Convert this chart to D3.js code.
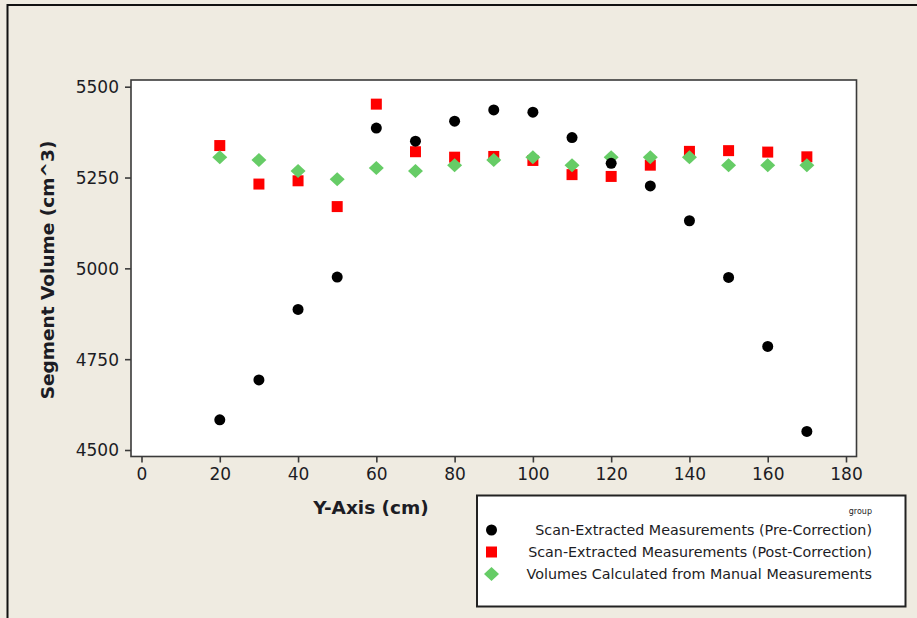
<!DOCTYPE html>
<html>
<head>
<meta charset="utf-8">
<script src="https://cdn.jsdelivr.net/npm/d3@7"></script>
<style>
  html, body { margin: 0; padding: 0; background: #efebe1; }
  svg { display: block; }
</style>
</head>
<body>
<svg id="chart" width="917" height="618"></svg>
<script>
// ---- Data ----
const positions = [20, 30, 40, 50, 60, 70, 80, 90, 100, 110, 120, 130, 140, 150, 160, 170];
const preCorrection  = [4583, 4693, 4887, 4976, 5386, 5350, 5405, 5436, 5430, 5360, 5289, 5227, 5131, 4975, 4785, 4551];
const postCorrection = [5338, 5232, 5241, 5170, 5452, 5321, 5306, 5308, 5297, 5258, 5253, 5284, 5322, 5324, 5320, 5307];
const manualVolumes  = [5306, 5298, 5268, 5245, 5276, 5268, 5284, 5298, 5306, 5284, 5306, 5306, 5306, 5284, 5284, 5284];
const xTicks = [0, 20, 40, 60, 80, 100, 120, 140, 160, 180];
const yTicks = [4500, 4750, 5000, 5250, 5500];
const seriesNames = [
  "Scan-Extracted Measurements (Pre-Correction)",
  "Scan-Extracted Measurements (Post-Correction)",
  "Volumes Calculated from Manual Measurements"
];
const legendTitle = "group";
const xTitle = "Y-Axis (cm)";
const yTitle = "Segment Volume (cm^3)";

// ---- Layout ----
const svg = d3.select("#chart");
const frame = { left: 131, top: 80, right: 856.5, bottom: 456.5 };
const x = d3.scaleLinear().domain([0, 180]).range([141.5, 846]);
const y = d3.scaleLinear().domain([4500, 5500]).range([450, 86.7]);

const textColor = "#1c1c24";
const fontFam = "'DejaVu Sans', Verdana, sans-serif";

// outer border (top/left only visible)
svg.append("line").attr("x1", 7.5).attr("x2", 917).attr("y1", 5).attr("y2", 5)
  .attr("stroke", "#111").attr("stroke-width", 2);
svg.append("line").attr("x1", 7.5).attr("x2", 7.5).attr("y1", 4).attr("y2", 618)
  .attr("stroke", "#111").attr("stroke-width", 2);

// plot area
svg.append("rect")
  .attr("x", frame.left).attr("y", frame.top)
  .attr("width", frame.right - frame.left).attr("height", frame.bottom - frame.top)
  .attr("fill", "#ffffff").attr("stroke", "#3a3a3a").attr("stroke-width", 1.6);

// axes
const yAxis = d3.axisLeft(y).tickValues(yTicks).tickSize(6).tickPadding(6).tickFormat(d3.format("d"));
const yG = svg.append("g").attr("transform", `translate(${frame.left},0)`).call(yAxis);
const xAxis = d3.axisBottom(x).tickValues(xTicks).tickSize(6).tickPadding(5).tickFormat(d3.format("d"));
const xG = svg.append("g").attr("transform", `translate(0,${frame.bottom})`).call(xAxis);
[yG, xG].forEach(g => {
  g.select(".domain").remove();
  g.selectAll(".tick line").attr("stroke", "#3a3a3a").attr("stroke-width", 1.6);
  g.selectAll(".tick text").attr("fill", textColor)
    .style("font-family", fontFam).style("font-size", "17px");
});
yG.selectAll(".tick text").attr("dy", "0.35em");

// axis titles
svg.append("text")
  .attr("transform", `translate(54,270) rotate(-90)`)
  .attr("text-anchor", "middle")
  .attr("fill", textColor)
  .style("font-family", fontFam).style("font-size", "18.5px").style("font-weight", "bold")
  .text(yTitle);
svg.append("text")
  .attr("x", 371).attr("y", 514)
  .attr("text-anchor", "middle")
  .attr("fill", textColor)
  .style("font-family", fontFam).style("font-size", "18.5px").style("font-weight", "bold")
  .text(xTitle);

// symbols
const circleSym = d3.symbol().type(d3.symbolCircle).size(Math.PI * 5.5 * 5.5);
const squareSym = d3.symbol().type(d3.symbolSquare).size(11 * 11);
const diamondPath = (w, h) => `M0,${-h / 2}L${w / 2},0L0,${h / 2}L${-w / 2},0Z`;

const plot = svg.append("g");
// red squares
plot.selectAll(".r").data(positions).join("path")
  .attr("transform", (d, i) => `translate(${x(d)},${y(postCorrection[i])})`)
  .attr("d", squareSym()).attr("fill", "#ff0000");
// green diamonds
plot.selectAll(".g").data(positions).join("path")
  .attr("transform", (d, i) => `translate(${x(d)},${y(manualVolumes[i])})`)
  .attr("d", diamondPath(15, 14)).attr("fill", "#66cc66");
// black circles
plot.selectAll(".b").data(positions).join("path")
  .attr("transform", (d, i) => `translate(${x(d)},${y(preCorrection[i])})`)
  .attr("d", circleSym()).attr("fill", "#000000");

// legend
const lg = svg.append("g");
lg.append("rect").attr("x", 477).attr("y", 495.5).attr("width", 428.5).attr("height", 111)
  .attr("fill", "#ffffff").attr("stroke", "#222").attr("stroke-width", 2);
lg.append("text").attr("x", 872).attr("y", 514).attr("text-anchor", "end")
  .attr("fill", textColor).style("font-family", fontFam).style("font-size", "8px")
  .text(legendTitle);
const rowY = [530, 552, 574];
const markers = [
  { d: circleSym(), fill: "#000000" },
  { d: squareSym(), fill: "#ff0000" },
  { d: diamondPath(15, 14), fill: "#66cc66" }
];
seriesNames.forEach((name, i) => {
  lg.append("path").attr("transform", `translate(491.5,${rowY[i]})`)
    .attr("d", markers[i].d).attr("fill", markers[i].fill);
  lg.append("text").attr("x", 872).attr("y", rowY[i]).attr("dy", "0.35em")
    .attr("text-anchor", "end").attr("fill", textColor)
    .style("font-family", fontFam).style("font-size", "14.3px")
    .text(name);
});
</script>
</body>
</html>
